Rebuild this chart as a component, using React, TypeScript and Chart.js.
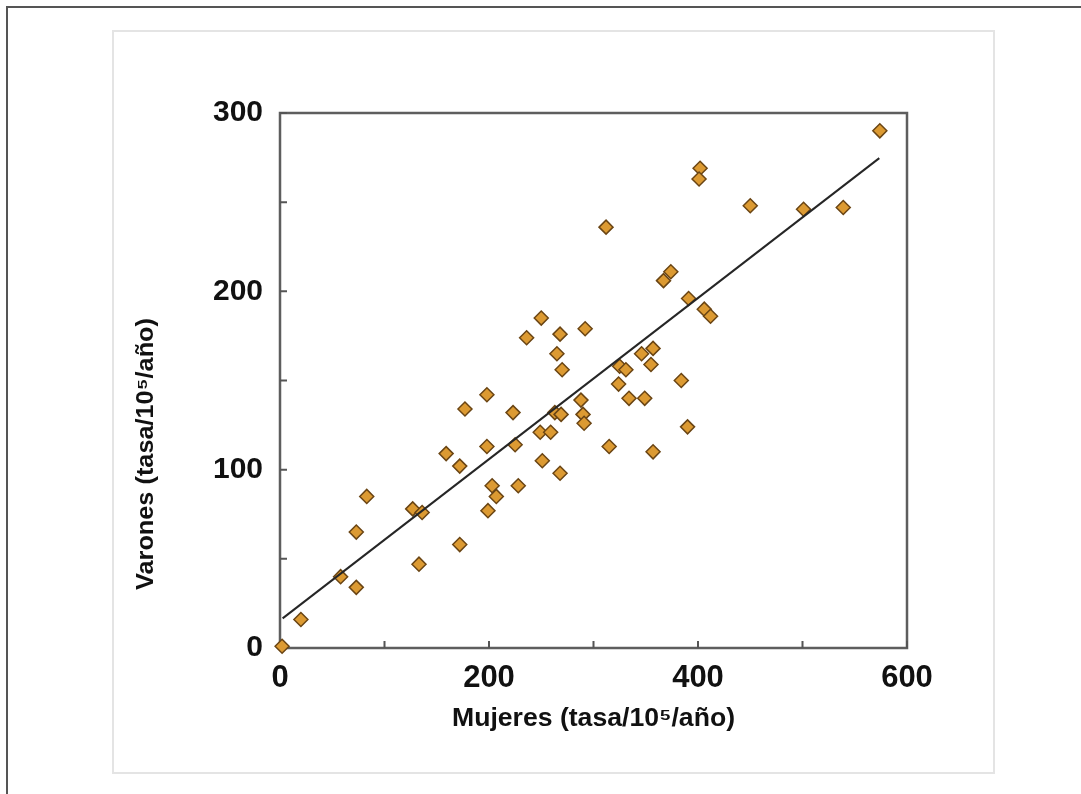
import React, { useEffect, useRef } from 'react';
import { Chart, registerables } from 'chart.js';

Chart.register(...registerables);

// Tasa en mujeres (eje X) y en varones (eje Y), por 10^5 habitantes/año
const womenRates = [
  2, 20, 58, 73, 73, 83, 127, 136, 133, 159,
  172, 172, 177, 198, 198, 199, 203, 207, 223, 225,
  228, 236, 250, 249, 251, 259, 265, 268, 270, 263,
  269, 268, 292, 288, 290, 291, 312, 315, 324, 325,
  331, 334, 346, 349, 357, 355, 357, 367, 374, 384,
  390, 391, 402, 401, 406, 412, 450, 501, 539, 574,
];
const menRates = [
  1, 16, 40, 34, 65, 85, 78, 76, 47, 109,
  102, 58, 134, 142, 113, 77, 91, 85, 132, 114,
  91, 174, 185, 121, 105, 121, 165, 176, 156, 132,
  131, 98, 179, 139, 131, 126, 236, 113, 148, 158,
  156, 140, 165, 140, 168, 159, 110, 206, 211, 150,
  124, 196, 269, 263, 190, 186, 248, 246, 247, 290,
];

// Recta de regresión (extremos)
const trendX = [2.5, 573.5];
const trendY = [16.6, 274.7];

const xLabelValues = [0, 200, 400, 600];
const yLabelValues = [0, 100, 200, 300];
const xTitle = 'Mujeres (tasa/10\u2075/año)';
const yTitle = 'Varones (tasa/10\u2075/año)';

function drawFittedText(
  ctx: CanvasRenderingContext2D,
  text: string,
  cx: number,
  cy: number,
  targetWidth: number,
  rotate: boolean
) {
  ctx.save();
  ctx.translate(cx, cy);
  if (rotate) ctx.rotate(-Math.PI / 2);
  const w = ctx.measureText(text).width;
  ctx.scale(targetWidth / w, 1);
  ctx.textAlign = 'center';
  ctx.textBaseline = 'middle';
  ctx.fillText(text, 0, 0);
  ctx.restore();
}

const framePlugin = {
  id: 'frameAndTitles',
  beforeDatasetsDraw(chart: any) {
    const { ctx, chartArea: a, scales } = chart;
    ctx.save();
    ctx.strokeStyle = '#5e5e5e';
    ctx.lineWidth = 2.5;
    ctx.strokeRect(a.left, a.top, a.right - a.left, a.bottom - a.top);
    ctx.lineWidth = 2;
    ctx.strokeStyle = '#555';
    ctx.beginPath();
    for (const t of scales.y.ticks) {
      const py = scales.y.getPixelForValue(t.value);
      ctx.moveTo(a.left, py);
      ctx.lineTo(a.left + 7, py);
    }
    for (const t of scales.x.ticks) {
      const px = scales.x.getPixelForValue(t.value);
      ctx.moveTo(px, a.bottom);
      ctx.lineTo(px, a.bottom - 7);
    }
    ctx.stroke();
    ctx.restore();
  },
  afterDraw(chart: any) {
    const { ctx, chartArea: a } = chart;
    ctx.save();
    ctx.fillStyle = '#111';
    ctx.font = 'bold 26px "Liberation Sans", Arial, sans-serif';
    drawFittedText(ctx, xTitle, (a.left + a.right) / 2, 719, 283, false);
    ctx.font = 'bold 24px "Liberation Sans", Arial, sans-serif';
    drawFittedText(ctx, yTitle, 146, 454, 272, true);
    ctx.restore();
  },
};

export default function App() {
  const canvasRef = useRef<HTMLCanvasElement | null>(null);

  useEffect(() => {
    const canvas = canvasRef.current;
    if (!canvas) return;
    const points = womenRates.map((x, i) => ({ x, y: menRates[i] }));
    const trend = trendX.map((x, i) => ({ x, y: trendY[i] }));

    const chart = new Chart(canvas, {
      type: 'scatter',
      data: {
        datasets: [
          {
            label: 'Regresión',
            data: trend,
            showLine: true,
            borderColor: '#262626',
            borderWidth: 2,
            pointRadius: 0,
            fill: false,
            order: 0,
          } as any,
          {
            label: 'Tasas',
            data: points,
            pointStyle: 'rectRot',
            pointRadius: 7,
            pointHoverRadius: 7,
            backgroundColor: '#dc9a32',
            borderColor: '#6a4514',
            borderWidth: 1.5,
            clip: false,
            order: 1,
          } as any,
        ],
      },
      options: {
        animation: false,
        responsive: false,
        devicePixelRatio: 1,
        events: [],
        layout: { padding: { left: 0, top: 113, right: 174, bottom: 0 } },
        plugins: {
          legend: { display: false },
          tooltip: { enabled: false },
        },
        scales: {
          x: {
            type: 'linear',
            min: 0,
            max: 600,
            grid: { display: false, drawTicks: false },
            border: { display: false },
            ticks: {
              stepSize: 100,
              padding: 12,
              color: '#111',
              font: { family: '"Liberation Sans", Arial, sans-serif', size: 31, weight: 'bold' },
              callback: (v: any) => (xLabelValues.includes(Number(v)) ? String(v) : ''),
              maxRotation: 0,
              autoSkip: false,
            },
            afterFit: (s: any) => {
              s.height = 146;
            },
          },
          y: {
            type: 'linear',
            min: 0,
            max: 300,
            grid: { display: false, drawTicks: false },
            border: { display: false },
            ticks: {
              stepSize: 50,
              padding: 17,
              color: '#111',
              font: { family: '"Liberation Sans", Arial, sans-serif', size: 30, weight: 'bold' },
              callback: (v: any) => (yLabelValues.includes(Number(v)) ? String(v) : ''),
              autoSkip: false,
            },
            afterFit: (s: any) => {
              s.width = 280;
            },
          },
        },
      },
      plugins: [framePlugin],
    });

    return () => chart.destroy();
  }, []);

  return (
    <div
      style={{
        position: 'absolute',
        left: 0,
        top: 0,
        width: 1081,
        height: 794,
        background: '#fff',
        overflow: 'hidden',
      }}
    >
      <div
        style={{
          position: 'absolute',
          left: 6,
          top: 6,
          width: 1100,
          height: 800,
          borderTop: '2px solid #555',
          borderLeft: '2px solid #555',
        }}
      />
      <div
        style={{
          position: 'absolute',
          left: 112,
          top: 30,
          width: 879,
          height: 740,
          border: '2px solid #e4e4e4',
        }}
      />
      <canvas
        ref={canvasRef}
        width={1081}
        height={794}
        style={{ position: 'absolute', left: 0, top: 0, display: 'block' }}
      />
    </div>
  );
}
